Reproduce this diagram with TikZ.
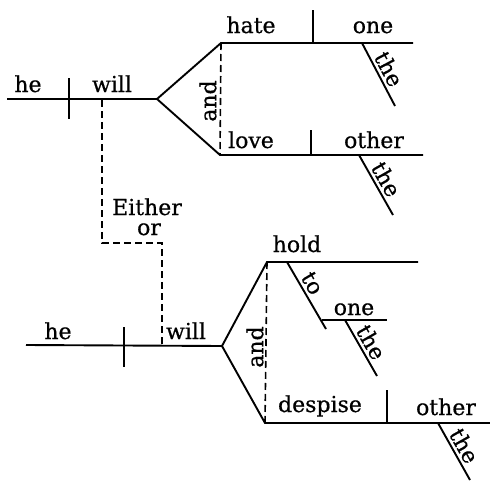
\documentclass[tikz,border=0pt]{standalone}
\usepackage{fontspec}
\setmainfont{DejaVu Serif}[FakeBold=0.6]
\begin{document}
\begin{tikzpicture}[x=1pt,y=-1pt,line width=1.9pt,
  dsh/.style={line width=1.6pt,dash pattern=on 7pt off 4pt},
  wd/.style={font=\fontsize{22}{25}\selectfont,inner sep=0pt,anchor=base},
  rw/.style={font=\fontsize{22}{25}\selectfont,inner sep=0pt,rotate=90},
  sl/.style={font=\fontsize{22}{25}\selectfont,sloped,above,inner sep=2.5pt}]
\useasboundingbox (0,0) rectangle (490,482);
% ---------- upper clause ----------
\coordinate (s1) at (7,99);
\coordinate (f1) at (157,99);
\coordinate (d1t) at (69,78);
\coordinate (d1b) at (69,119);
\coordinate (u1) at (221,43);
\coordinate (u1e) at (413,43);
\coordinate (l1) at (220,155);
\coordinate (l1e) at (423,155);
\coordinate (hv1t) at (313,10);
\coordinate (hv1b) at (313,43);
\coordinate (lv1t) at (311,130);
\coordinate (lv1b) at (311,155);
\coordinate (t1a) at (362,43);
\coordinate (t1b) at (395,106);
\coordinate (t2a) at (359,155);
\coordinate (t2b) at (393,215);
\draw (s1) -- (f1);
\draw (d1t) -- (d1b);
\draw (f1) -- (u1) -- (u1e);
\draw (f1) -- (l1) -- (l1e);
\draw[dsh] (u1) -- (l1);
\draw (hv1t) -- (hv1b);
\draw (lv1t) -- (lv1b);
\draw (t1a) -- node[sl] (the1) {the} (t1b);
\draw (t2a) -- node[sl] (the2) {the} (t2b);
\node[wd] (he1) at (28,92) {he};
\node[wd] (will1) at (112,92) {will};
\node[rw] (and1) at (208,101) {and};
\node[wd] (hate) at (251,33) {hate};
\node[wd] (one1) at (373,33) {one};
\node[wd] (love) at (251,148) {love};
\node[wd] (other1) at (374,148) {other};
% ---------- Either / or ----------
\coordinate (e1) at (102,100);
\coordinate (e2) at (102,243);
\coordinate (e3) at (162,243);
\coordinate (e4) at (162,345);
\draw[dsh] (e1) -- (e2) -- (e3) -- (e4);
\node[wd] (either) at (147,215) {Either};
\node[wd] (or) at (149,235) {or};
% ---------- lower clause ----------
\coordinate (s2) at (26,345);
\coordinate (f2) at (222,346);
\coordinate (d2t) at (124,327);
\coordinate (d2b) at (124,367);
\coordinate (u2) at (267,262);
\coordinate (u2e) at (418,262);
\coordinate (l2) at (265,423);
\coordinate (l2e) at (490,423);
\coordinate (toa) at (287,262);
\coordinate (tob) at (326,329);
\coordinate (onea) at (322,320);
\coordinate (oneb) at (387,320);
\coordinate (t3a) at (345,320);
\coordinate (t3b) at (377,376);
\coordinate (dv2t) at (387,390);
\coordinate (dv2b) at (387,423);
\coordinate (t4a) at (438,423);
\coordinate (t4b) at (470,480);
\draw (s2) -- (f2);
\draw (d2t) -- (d2b);
\draw (f2) -- (u2) -- (u2e);
\draw (f2) -- (l2) -- (l2e);
\draw[dsh] (u2) -- (l2);
\draw (toa) -- node[sl,pos=0.4] (to) {to} (tob);
\draw (onea) -- (oneb);
\draw (t3a) -- node[sl] (the3) {the} (t3b);
\draw (dv2t) -- (dv2b);
\draw (t4a) -- node[sl] (the4) {the} (t4b);
\node[wd] (he2) at (58,339) {he};
\node[wd] (will2) at (186,339) {will};
\node[rw] (and2) at (255,347) {and};
\node[wd] (hold) at (297,252) {hold};
\node[wd] (one2) at (354,315) {one};
\node[wd] (despise) at (320,412) {despise};
\node[wd] (other2) at (446,415) {other};
\end{tikzpicture}
\end{document}
